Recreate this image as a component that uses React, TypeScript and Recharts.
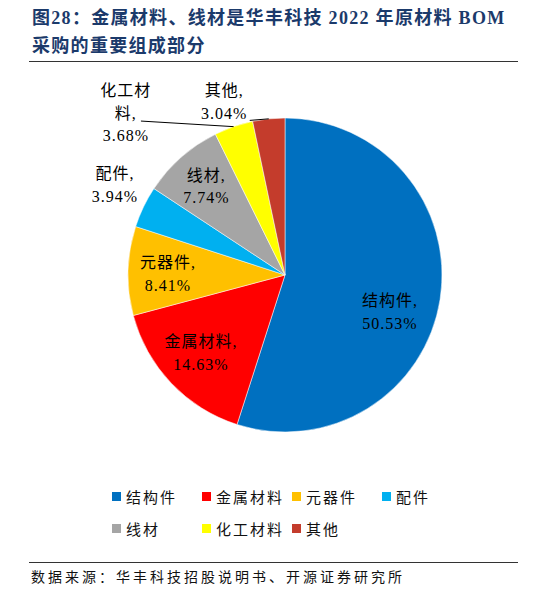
import React from 'react';
import { PieChart, Pie, Cell, Legend } from 'recharts';

const categories = ['结构件', '金属材料', '元器件', '配件', '线材', '化工材料', '其他'];
const shares = [50.53, 14.63, 8.41, 3.94, 7.74, 3.68, 3.04];
const colors = ['#0070C0', '#FF0000', '#FFC000', '#00B0F0', '#A5A5A5', '#FFFF00', '#C43C2C'];

// label placement: radius as share of outer radius, angle shift (deg, clockwise) from the slice middle
const labelRadius = [0.709, 0.73, 0.745, 1.225, 0.754, 1.446, 1.168];
const labelShift = [10.5, 0.7, -1.1, 2.2, -0.2, -25.4, -13.4];
const labelWrap = [0, 0, 0, 0, 0, 3, 0];
// leader lines for the small outside labels: [radius factor, angle shift] of the line end
const leaderEnd: (number[] | null)[] = [null, null, null, null, null, [1.343, -24], [1.01, -6.9]];

const data = categories.map((name, i) => ({ name, value: shares[i] }));

const RAD = Math.PI / 180;
const FONT = '"Liberation Serif", "Times New Roman", "Noto Sans CJK SC", serif';

const polar = (cx: number, cy: number, r: number, angle: number) => ({
  x: cx + Math.cos(-angle * RAD) * r,
  y: cy + Math.sin(-angle * RAD) * r,
});

const renderLabel = (props: any) => {
  const { cx, cy, midAngle, outerRadius, index } = props;
  const name = categories[index];
  const pct = shares[index].toFixed(2) + '%';
  const wrap = labelWrap[index];
  const lines = wrap ? [name.slice(0, wrap), name.slice(wrap) + ',', pct] : [name + ',', pct];
  const p = polar(cx, cy, outerRadius * labelRadius[index], midAngle - labelShift[index]);
  const lh = 22.5;
  const y0 = p.y - ((lines.length - 1) * lh) / 2;
  const le = leaderEnd[index];
  let line = null;
  if (le) {
    const a = polar(cx, cy, outerRadius, midAngle);
    const b = polar(cx, cy, outerRadius * le[0], midAngle - le[1]);
    line = <line x1={a.x} y1={a.y} x2={b.x} y2={b.y} stroke="#000" strokeWidth={1} />;
  }
  return (
    <g key={'lbl' + index}>
      {line}
      <text
        x={p.x}
        y={y0}
        textAnchor="middle"
        fill="#000"
        fontFamily={FONT}
        fontSize={16}
        letterSpacing={1}
        style={{ fontFamily: FONT, fontSize: 16, letterSpacing: 1 }}
      >
        {lines.map((t, k) => (
          <tspan key={k} x={p.x} y={y0 + k * lh} dominantBaseline="central" fontFamily={FONT}>
            {t}
          </tspan>
        ))}
      </text>
    </g>
  );
};

const renderLegend = (props: any) => {
  const payload = [...(props.payload || [])].sort(
    (a: any, b: any) => categories.indexOf(a.value) - categories.indexOf(b.value)
  );
  return (
    <div style={{ display: 'flex', flexWrap: 'wrap', width: 380 }}>
      {payload.map((p: any, i: number) => {
        const idx = categories.indexOf(p.value);
        return (
          <div
            key={i}
            style={{ width: 90, height: 32, display: 'flex', alignItems: 'center' }}
          >
            <span
              style={{ width: 9, height: 9, background: colors[idx >= 0 ? idx : i], marginRight: 5, flex: 'none' }}
            />
            <span
              style={{ fontFamily: FONT, fontSize: 15, letterSpacing: 2, color: '#111', whiteSpace: 'nowrap' }}
            >
              {p.value}
            </span>
          </div>
        );
      })}
    </div>
  );
};

export default function App() {
  return (
    <div style={{ position: 'absolute', left: 0, top: 0, width: 546, height: 592, background: '#fff' }}>
      <div
        style={{
          position: 'absolute',
          left: 32,
          top: 4,
          fontFamily: FONT,
          fontWeight: 700,
          fontSize: 18,
          lineHeight: '28px',
          letterSpacing: 1.3,
          color: '#1B3A6B',
          whiteSpace: 'nowrap',
        }}
      >
        <div>图28：金属材料、线材是华丰科技 2022 年原材料 BOM</div>
        <div>采购的重要组成部分</div>
      </div>
      <div style={{ position: 'absolute', left: 29, top: 61, width: 489, height: 1, background: '#333' }} />

      <div style={{ position: 'absolute', left: 0, top: 0 }}>
        <PieChart width={546} height={592}>
          <Pie
            data={data}
            dataKey="value"
            nameKey="name"
            cx={280}
            cy={270}
            outerRadius={157}
            startAngle={90}
            endAngle={-270}
            stroke="#ffffff"
            strokeWidth={0.5}
            label={renderLabel}
            labelLine={false}
            isAnimationActive={false}
          >
            {data.map((d, i) => (
              <Cell key={d.name} fill={colors[i]} />
            ))}
          </Pie>
          <Legend
            content={renderLegend}
            wrapperStyle={{ position: 'absolute', left: 112, top: 480, width: 380 }}
          />
        </PieChart>
      </div>

      <div style={{ position: 'absolute', left: 29, top: 562, width: 489, height: 1, background: '#333' }} />
      <div
        style={{
          position: 'absolute',
          left: 31,
          top: 569,
          fontFamily: FONT,
          fontSize: 14,
          lineHeight: '18px',
          letterSpacing: 3,
          color: '#111',
          whiteSpace: 'nowrap',
        }}
      >
        数据来源：华丰科技招股说明书、开源证券研究所
      </div>
    </div>
  );
}
